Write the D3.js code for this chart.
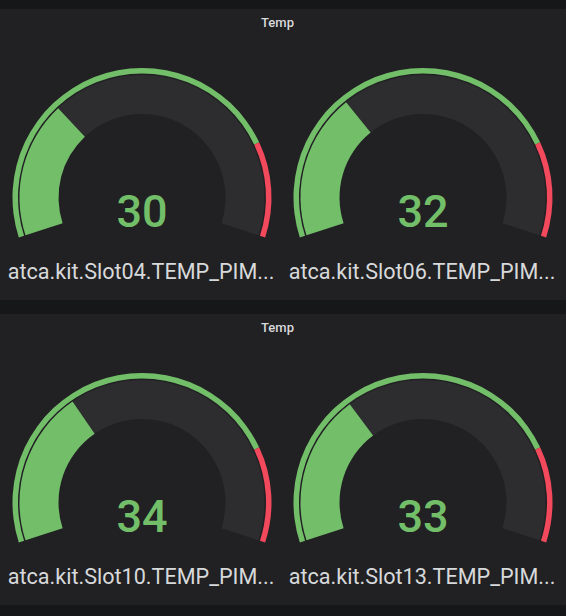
<!DOCTYPE html>
<html>
<head>
<meta charset="utf-8">
<script src="https://cdn.jsdelivr.net/npm/d3@7"></script>
<style>
  body { margin: 0; background: #161719; }
  svg { display: block; font-family: Roboto, "Helvetica Neue", Arial, sans-serif; }
</style>
</head>
<body>
<div id="chart"></div>
<script>
// values
var panelTitles = ["Temp", "Temp"];
var gaugeLabels = [
  "atca.kit.Slot04.TEMP_PIM...",
  "atca.kit.Slot06.TEMP_PIM...",
  "atca.kit.Slot10.TEMP_PIM...",
  "atca.kit.Slot13.TEMP_PIM..."
];
var gaugeValues = [30, 32, 34, 33];
var gaugeMin = 0;
var gaugeMax = 100;
// threshold steps: base green, red from 80
var thresholdSteps = [0, 80];
var thresholdColors = ["#73BF69", "#F2495C"];

var svgWidth = 566;
var svgHeight = 616;
var panelTop0 = 9;
var panelStep = 305;
var panelHeight = 291;
var gaugeCentersX = [142, 423];

var svg = d3.select("#chart")
  .append("svg")
  .attr("width", svgWidth)
  .attr("height", svgHeight);

svg.append("rect")
  .attr("width", svgWidth)
  .attr("height", svgHeight)
  .attr("fill", "#161719");

// angle scale for the gauge, 216 degree sweep
var angleScale = d3.scaleLinear()
  .domain([gaugeMin, gaugeMax])
  .range([-0.6 * Math.PI, 0.6 * Math.PI]);

var ringArc = d3.arc().innerRadius(124).outerRadius(129.5);
var mainArc = d3.arc().innerRadius(83.5).outerRadius(122.5);

function colorFor(v) {
  var c = thresholdColors[0];
  thresholdSteps.forEach(function(s, i) {
    if (v >= s) c = thresholdColors[i];
  });
  return c;
}

panelTitles.forEach(function(title, p) {
  var top = panelTop0 + p * panelStep;
  var panel = svg.append("g").attr("transform", `translate(0, ${top})`);

  panel.append("rect")
    .attr("width", svgWidth)
    .attr("height", panelHeight)
    .attr("fill", "#212124");

  panel.append("text")
    .attr("x", 277.5)
    .attr("y", 18)
    .attr("text-anchor", "middle")
    .attr("font-size", 13)
    .attr("font-weight", 500)
    .attr("fill", "#d8d9da")
    .text(title);

  gaugeCentersX.forEach(function(cx, j) {
    var idx = p * 2 + j;
    var value = gaugeValues[idx];
    var g = panel.append("g").attr("transform", `translate(${cx}, 188.5)`);

    // threshold ring
    thresholdSteps.forEach(function(s, i) {
      var end = i + 1 < thresholdSteps.length ? thresholdSteps[i + 1] : gaugeMax;
      g.append("path")
        .attr("d", ringArc({ startAngle: angleScale(s), endAngle: angleScale(end) }))
        .attr("fill", thresholdColors[i]);
    });

    // background track
    g.append("path")
      .attr("d", mainArc({ startAngle: angleScale(gaugeMin), endAngle: angleScale(gaugeMax) }))
      .attr("fill", "#2d2d30");

    // value arc
    g.append("path")
      .attr("d", mainArc({ startAngle: angleScale(gaugeMin), endAngle: angleScale(value) }))
      .attr("fill", colorFor(value));

    g.append("text")
      .attr("y", 29.5)
      .attr("text-anchor", "middle")
      .attr("font-size", 45)
      .attr("font-weight", 500)
      .attr("fill", colorFor(value))
      .text(value);

    g.append("text")
      .attr("x", -1)
      .attr("y", 81.5)
      .attr("text-anchor", "middle")
      .attr("font-size", 21.6)
      .attr("fill", "#d8d9da")
      .text(gaugeLabels[idx]);
  });
});
</script>
</body>
</html>
